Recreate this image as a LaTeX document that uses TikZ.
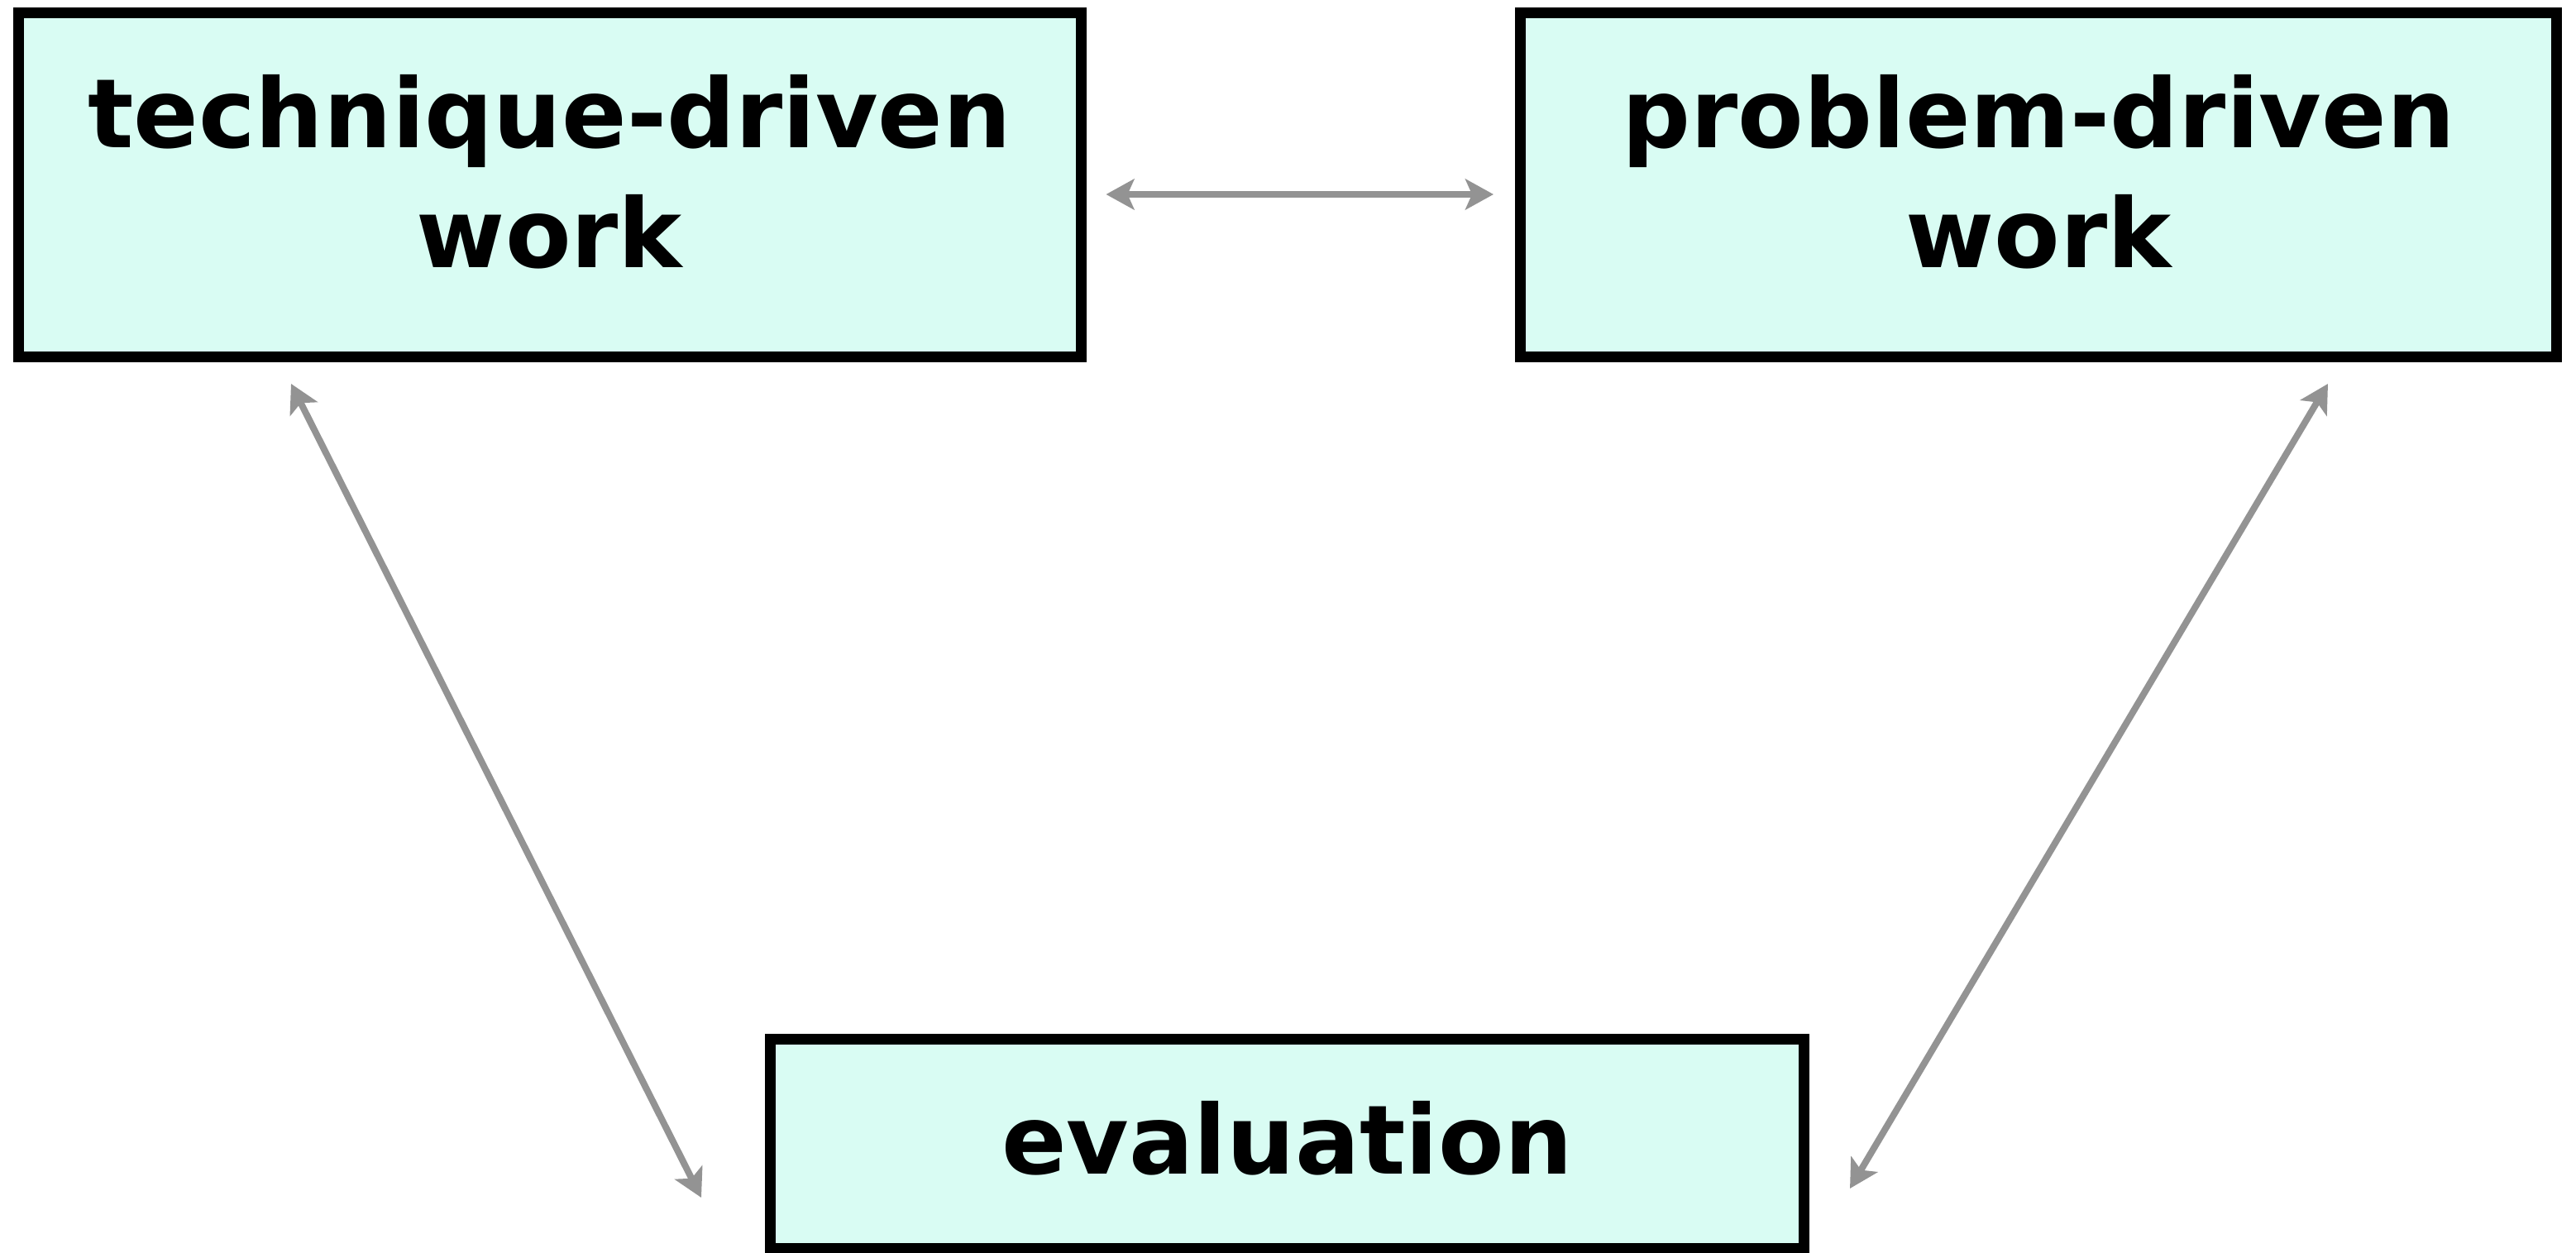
\documentclass[tikz,border=0pt]{standalone}
\usepackage{fontspec}
\setmainfont{DejaVu Sans}
\usetikzlibrary{arrows.meta}
\definecolor{boxmint}{RGB}{217,252,243}
\definecolor{linkgray}{RGB}{147,147,147}

\begin{document}
\begin{tikzpicture}[
    box/.style={draw=black, line width=1.3mm, fill=boxmint, align=center,
      font=\fontsize{33}{41.5}\selectfont\bfseries},
    link/.style={linkgray, line width=0.8mm,
      {Stealth[length=3.4mm, width=3.7mm, inset=0.8mm]}-{Stealth[length=3.4mm, width=3.7mm, inset=0.8mm]}}
  ]
  \useasboundingbox (0,0) rectangle (31.15,15.14);

  % Boxes
  \node[box, minimum width=12.85cm, minimum height=4.16cm, text depth=0.33cm] (tech) at (6.645,12.905) {technique-driven\\work};
  \node[box, minimum width=12.53cm, minimum height=4.16cm, text depth=0.33cm] (prob) at (24.65,12.905) {problem-driven\\work};
  \node[box, minimum width=12.5cm, minimum height=2.53cm, text height=0.88cm, text depth=0.16cm] (eval) at (15.565,1.31) {evaluation};

  % Free arrow ends
  \coordinate (tech-foot) at (3.52,10.50);
  \coordinate (prob-foot) at (28.15,10.50);
  \coordinate (eval-left) at (8.48,0.66);
  \coordinate (eval-right) at (22.37,0.77);

  % Arrows
  \draw[link, shorten <=2.4mm, shorten >=2.6mm] ([yshift=-1.15mm]tech.east) -- ([yshift=-1.15mm]prob.west);
  \draw[link] (tech-foot) -- (eval-left);
  \draw[link] (prob-foot) -- (eval-right);
\end{tikzpicture}
\end{document}
